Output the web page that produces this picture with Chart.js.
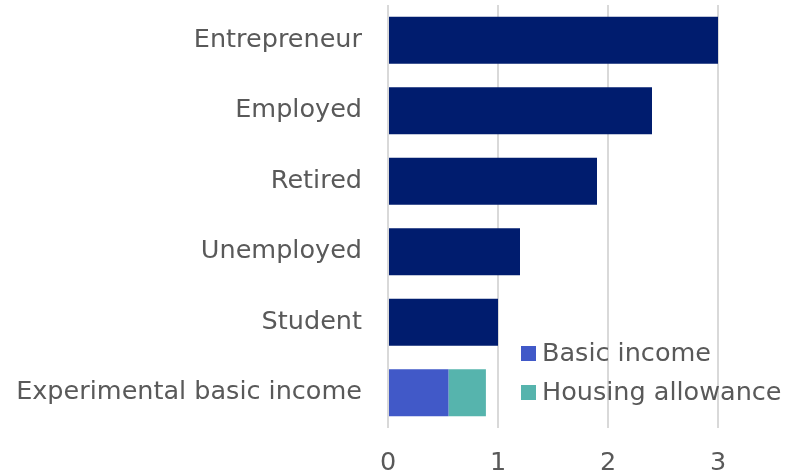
<!DOCTYPE html>
<html>
<head>
<meta charset="utf-8">
<script src="https://cdn.jsdelivr.net/npm/chart.js@4"></script>
<style>
  html, body { margin: 0; padding: 0; background: #fff; }
  #wrap { width: 789px; height: 476px; position: relative; }
</style>
</head>
<body>
<div id="wrap"><canvas id="chart1"></canvas></div>
<script>
let categories = ['Entrepreneur', 'Employed', 'Retired', 'Unemployed', 'Student', 'Experimental basic income'];
let groupValues = [3.0, 2.4, 1.9, 1.2, 1.0, null];
let basicIncome = [null, null, null, null, null, 0.55];
let housingAllowance = [null, null, null, null, null, 0.34];
let tickValues = [0, 1, 2, 3];

let fontFamily = "'DejaVu Sans', sans-serif";
let textColor = '#595959';

// legend drawn inside the plot, next to the last bar
let insideLegend = {
    id: 'insideLegend',
    afterDraw(chart) {
        let ctx = chart.ctx;
        let x = 521, y = 346;
        ctx.save();
        ctx.font = '25.5px ' + fontFamily;
        ctx.textBaseline = 'middle';
        chart.data.datasets.forEach(ds => {
            if (!ds.inLegend) return;
            ctx.fillStyle = ds.backgroundColor;
            ctx.fillRect(x, y, 15, 15);
            ctx.fillStyle = textColor;
            ctx.fillText(ds.label, x + 21, y + 8);
            y += 39;
        });
        ctx.restore();
    }
};

let config = {
    type: 'bar',
    data: {
        labels: categories,
        datasets: [{
            label: 'Group',
            data: groupValues,
            backgroundColor: '#001c6e',
            inLegend: false
        }, {
            label: 'Basic income',
            data: basicIncome,
            backgroundColor: '#4159c8',
            inLegend: true
        }, {
            label: 'Housing allowance',
            data: housingAllowance,
            backgroundColor: '#56b4ad',
            inLegend: true
        }]
    },
    options: {
        indexAxis: 'y',
        responsive: true,
        maintainAspectRatio: false,
        animation: false,
        datasets: {
            bar: { categoryPercentage: 1, barPercentage: 0.67 }
        },
        layout: { padding: { top: 5, right: 71, bottom: 0, left: 0 } },
        scales: {
            x: {
                stacked: true,
                min: 0,
                max: 3,
                afterBuildTicks: scale => { scale.ticks = tickValues.map(v => ({ value: v })); },
                afterFit: scale => { scale.height = 48; },
                grid: { color: '#d9d9d9', lineWidth: 2, drawTicks: false },
                border: { display: false },
                ticks: { color: textColor, font: { family: fontFamily, size: 25.5 }, padding: 20 }
            },
            y: {
                stacked: true,
                grid: { display: false },
                border: { display: false },
                afterFit: scale => {
                    scale.width = 388;
                    scale.paddingTop = 0;
                    scale.paddingBottom = 0;
                },
                ticks: { color: textColor, font: { family: fontFamily, size: 25.5 }, padding: 18 }
            }
        },
        plugins: {
            legend: { display: false },
            tooltip: { enabled: false }
        }
    },
    plugins: [insideLegend]
};

new Chart(document.getElementById('chart1'), config);
</script>
</body>
</html>
